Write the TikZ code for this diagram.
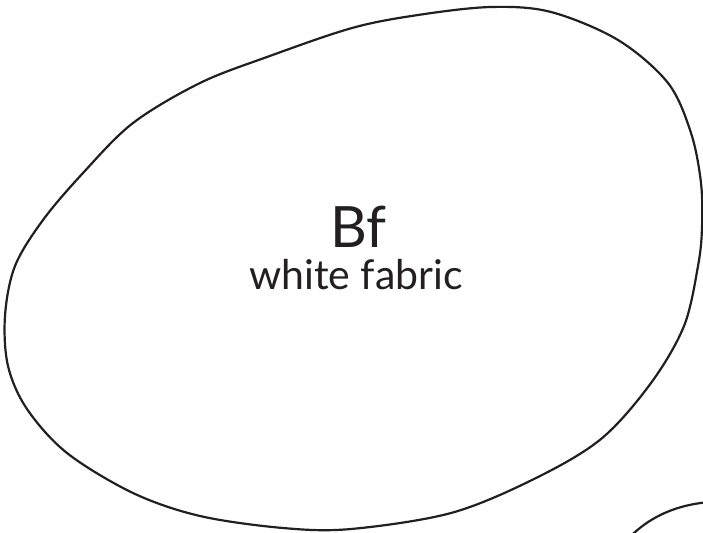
\documentclass[tikz,border=0pt]{standalone}
\usepackage{fontspec}
\setmainfont{Lato}
\definecolor{ink}{RGB}{35,31,32}

\begin{document}
\begin{tikzpicture}[x=1pt,y=-1pt,line cap=round,line join=round,
  blobline/.style={draw=ink,line width=2.2pt},
  bigname/.style={text=ink,inner sep=0pt,anchor=base,font=\fontsize{57}{60}\selectfont},
  subname/.style={text=ink,inner sep=0pt,anchor=base,font=\fontsize{41}{44}\selectfont}]
\path[use as bounding box] (0,0) rectangle (703,532);
% fabric patch
\draw[blobline] plot[smooth cycle,tension=0.55] coordinates {
  (491,7) (551,12) (618,40) (668,83) (691,133) (701,183) (702,228)
  (698,266) (684,326) (651,383) (601,439) (534,479) (451,513) (351,529)
  (283,528) (200,516) (133,493) (67,453) (27,409) (8,366) (5,316)
  (15,266) (43,220) (83,173) (133,123) (200,83) (267,57) (352,28) (418,15)};
\node[bigname] (bf) at (358,247) {Bf};
\node[subname] (bfsub) at (356,289) {white fabric};
% next patch, cut off by the page
\begin{scope}
\clip (0,0) rectangle (703,532);
\draw[blobline] (626,541) .. controls (645,520) and (672,505) .. (710,502);
\end{scope}
\end{tikzpicture}
\end{document}
